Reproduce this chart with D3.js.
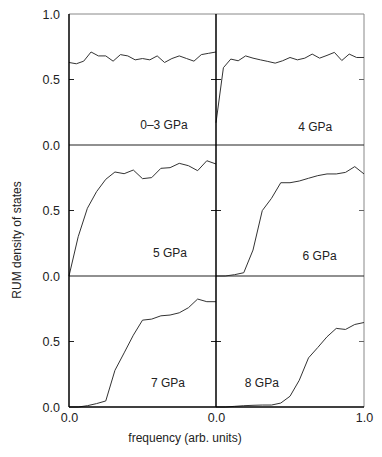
<!DOCTYPE html>
<html>
<head>
<meta charset="utf-8">
<script src="https://cdn.jsdelivr.net/npm/d3@7"></script>
<style>
  body { margin: 0; background: #fff; }
  text { font-family: "Liberation Sans", Arial, sans-serif; fill: #222; }
</style>
</head>
<body>
<div id="chart"></div>
<script>
// panel titles, row by row (left, right)
const panelLabels = ["0\u20133 GPa", "4 GPa", "5 GPa", "6 GPa", "7 GPa", "8 GPa"];

// RUM density of states, evenly sampled over frequency 0..1
const dos0to3 = [0.63, 0.62, 0.64, 0.71, 0.68, 0.68, 0.64, 0.69, 0.68, 0.65, 0.66,
                 0.65, 0.68, 0.63, 0.66, 0.68, 0.66, 0.64, 0.69, 0.70, 0.71];
const dos4 = [0.17, 0.59, 0.656, 0.643, 0.68, 0.663, 0.65, 0.638, 0.625, 0.643, 0.668,
              0.65, 0.663, 0.694, 0.663, 0.684, 0.707, 0.645, 0.694, 0.668, 0.668];
const dos5 = [0, 0.30, 0.517, 0.644, 0.738, 0.794, 0.781, 0.809, 0.743,
              0.751, 0.822, 0.827, 0.86, 0.842, 0.804, 0.88, 0.855];
const dos6 = [0, 0, 0.01, 0.025, 0.198, 0.499, 0.593, 0.712, 0.712,
              0.725, 0.746, 0.766, 0.779, 0.779, 0.791, 0.835, 0.779];
const dos7 = [0, 0, 0.01, 0.026, 0.046, 0.28, 0.413, 0.548, 0.663,
              0.671, 0.696, 0.702, 0.719, 0.758, 0.824, 0.804, 0.804];
const dos8 = [0, 0, 0.005, 0.01, 0.013, 0.015, 0.015, 0.03, 0.082,
              0.204, 0.375, 0.454, 0.536, 0.6, 0.592, 0.63, 0.645];

const yTickValues = [0, 0.5, 1.0];
// left column only labels its start, right column labels both ends
const xTickValuesLeft = [0];
const xTickValuesRight = [0, 1.0];

const allSeries = [dos0to3, dos4, dos5, dos6, dos7, dos8];

const width = 382, height = 457;
const leftX = 69, midX = 216, rightX = 364;
const topY = 14, rowH = 131;

// where each panel title sits, in panel units
const labelSpot = [[0.646, 0.153], [0.67, 0.137], [0.687, 0.176],
                   [0.70, 0.153], [0.673, 0.183], [0.31, 0.183]];

const svg = d3.select("#chart").append("svg")
    .attr("width", width)
    .attr("height", height);

const colX = [
    d3.scaleLinear().domain([0, 1]).range([leftX, midX]),
    d3.scaleLinear().domain([0, 1]).range([midX, rightX])
];
const rowY = [0, 1, 2].map(r =>
    d3.scaleLinear().domain([0, 1]).range([topY + rowH * (r + 1), topY + rowH * r]));

// gray outer frame (top + right)
svg.append("path")
    .attr("d", `M${leftX},${topY}H${rightX}V${topY + rowH * 3}`)
    .attr("fill", "none")
    .attr("stroke", "#888")
    .attr("stroke-width", 1);

// curves
allSeries.forEach((vals, i) => {
    const xs = colX[i % 2], ys = rowY[Math.floor(i / 2)];
    const line = d3.line()
        .x((d, j) => xs(j / (vals.length - 1)))
        .y(d => ys(d));
    svg.append("path")
        .datum(vals)
        .attr("d", line)
        .attr("fill", "none")
        .attr("stroke", "#333")
        .attr("stroke-width", 1)
        .attr("stroke-linejoin", "round");

    const [lx, ly] = labelSpot[i];
    svg.append("text")
        .attr("x", xs(lx))
        .attr("y", ys(ly))
        .attr("text-anchor", "middle")
        .attr("dominant-baseline", "central")
        .attr("font-size", 12)
        .text(panelLabels[i]);
});

// horizontal dividers between rows
[1, 2].forEach(r => {
    svg.append("line")
        .attr("x1", leftX).attr("x2", rightX)
        .attr("y1", rowY[r](1)).attr("y2", rowY[r](1))
        .attr("stroke", "#222").attr("stroke-width", 1.2);
});

// y axes per row (left), with inward ticks; mirrored ticks on middle and right
rowY.forEach((ys, r) => {
    const ticks = r === 0 ? yTickValues : yTickValues.slice(0, 2);
    const ax = svg.append("g")
        .attr("transform", `translate(${leftX},0)`)
        .call(d3.axisLeft(ys).tickValues(ticks).tickSize(0).tickPadding(9)
            .tickFormat(d3.format(".1f")));
    ax.select(".domain").remove();
    ax.selectAll("text").attr("font-size", 12.5).attr("font-family", "Liberation Sans, Arial, sans-serif").attr("fill", "#222");

    const y5 = ys(0.5);
    svg.append("line").attr("x1", leftX).attr("x2", leftX + 5)
        .attr("y1", y5).attr("y2", y5).attr("stroke", "#222");
    svg.append("line").attr("x1", midX - 5).attr("x2", midX + 5)
        .attr("y1", y5).attr("y2", y5).attr("stroke", "#222");
    svg.append("line").attr("x1", rightX - 5).attr("x2", rightX)
        .attr("y1", y5).attr("y2", y5).attr("stroke", "#666");
});

// black left axis, middle divider, bottom axis
const bottomY = rowY[2](0);
svg.append("line").attr("x1", leftX).attr("x2", leftX)
    .attr("y1", topY).attr("y2", bottomY).attr("stroke", "#000").attr("stroke-width", 1.5);
svg.append("line").attr("x1", midX).attr("x2", midX)
    .attr("y1", topY).attr("y2", bottomY).attr("stroke", "#000").attr("stroke-width", 1.5);
svg.append("line").attr("x1", leftX).attr("x2", rightX)
    .attr("y1", bottomY).attr("y2", bottomY).attr("stroke", "#000").attr("stroke-width", 1.5);

// x tick labels
[[colX[0], xTickValuesLeft], [colX[1], xTickValuesRight]].forEach(([xs, tv]) => {
    const ax = svg.append("g")
        .attr("transform", `translate(0,${bottomY})`)
        .call(d3.axisBottom(xs).tickValues(tv).tickSize(0).tickPadding(6)
            .tickFormat(d3.format(".1f")));
    ax.select(".domain").remove();
    ax.selectAll("text").attr("font-size", 12.5).attr("font-family", "Liberation Sans, Arial, sans-serif").attr("fill", "#222");
});

// axis titles
svg.append("text")
    .attr("x", 185)
    .attr("y", 438)
    .attr("text-anchor", "middle")
    .attr("dominant-baseline", "central")
    .attr("font-size", 12)
    .text("frequency (arb. units)");

svg.append("text")
    .attr("transform", "translate(17,240) rotate(-90)")
    .attr("text-anchor", "middle")
    .attr("dominant-baseline", "central")
    .attr("font-size", 12)
    .text("RUM density of states");
</script>
</body>
</html>
